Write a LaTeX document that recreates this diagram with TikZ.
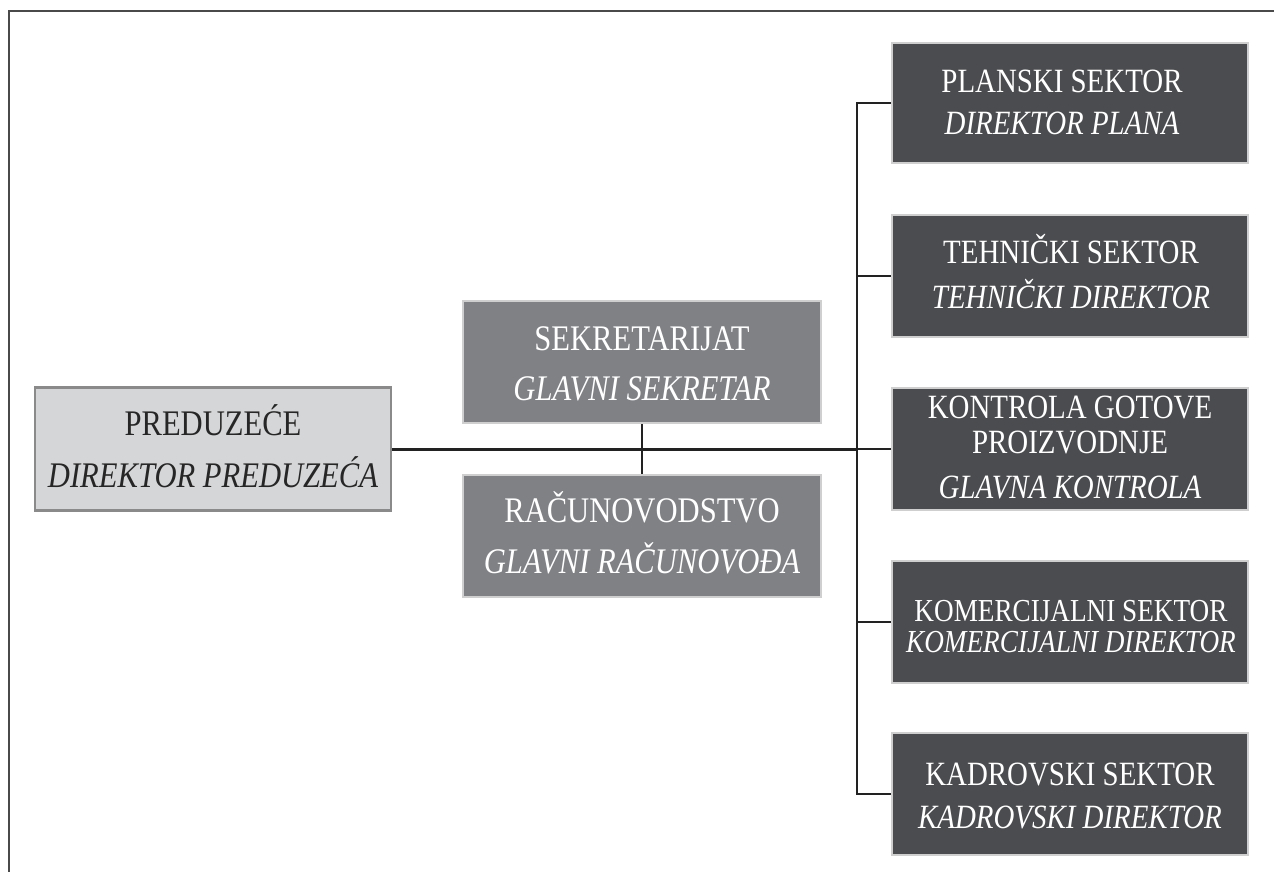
\documentclass[tikz,border=0pt]{standalone}
\usepackage{fontspec}
\setmainfont[FakeStretch=0.85]{Liberation Serif}
\definecolor{predfill}{HTML}{D5D6D8}
\definecolor{predline}{HTML}{8A8A8A}
\definecolor{midfill}{HTML}{808185}
\definecolor{darkfill}{HTML}{4B4C4F}
\definecolor{boxline}{HTML}{CFCFCF}
\definecolor{conn}{HTML}{222222}
\definecolor{frame}{HTML}{4A4A4A}
\begin{document}
\begin{tikzpicture}[x=1pt,y=-1pt,
  predbox/.style={draw=predline,fill=predfill,line width=2.5pt,minimum width=356pt,minimum height=123pt,inner sep=0pt},
  midbox/.style={draw=boxline,fill=midfill,line width=2pt,minimum width=358pt,minimum height=122pt,inner sep=0pt},
  darkbox/.style={draw=boxline,fill=darkfill,line width=2pt,minimum width=356pt,minimum height=120pt,inner sep=0pt},
  bigtxt/.style={anchor=base,inner sep=0pt,font=\fontsize{36}{36}\selectfont},
  smalltxt/.style={anchor=base,inner sep=0pt,font=\fontsize{34}{34}\selectfont,text=white},
  tighttxt/.style={anchor=base,inner sep=0pt,font=\fontsize{32}{32}\selectfont,text=white},
  conline/.style={draw=conn,line width=2pt},
  mainline/.style={draw=conn,line width=3pt}]
\useasboundingbox (0,0) rectangle (1274,872);
% frame
\draw[frame,line width=2pt] (9,872) -- (9,11) -- (1274,11);
% boxes
\node[predbox] (pred) at (213,449) {};
\node[midbox] (sek) at (642,362) {};
\node[midbox] (rac) at (642,536) {};
\node[darkbox] (plan) at (1070,103) {};
\node[darkbox,minimum height=122pt] (teh) at (1070,276) {};
\node[darkbox,minimum height=122pt] (kon) at (1070,449) {};
\node[darkbox,minimum height=122pt] (kom) at (1070,622) {};
\node[darkbox,minimum height=122pt] (kad) at (1070,794) {};
% connectors
\coordinate (bus) at (857,449);
\draw[mainline] (pred.east) -- (pred.east -| bus);
\draw[conline] (bus) -- (kon.west);
\draw[conline] (sek.south) -- (rac.north);
\draw[conline] (plan.west) -- (plan.west -| bus) -- (kad.west -| bus) -- (kad.west);
\draw[conline] (teh.west -| bus) -- (teh.west);
\draw[conline] (kom.west -| bus) -- (kom.west);
% texts
\node[bigtxt,text=black!85] (pred-a) at (213,435) {PREDUZEĆE};
\node[bigtxt,text=black!85] (pred-b) at (213,487) {\itshape DIREKTOR PREDUZEĆA};
\node[bigtxt,text=white] (sek-a) at (642,350) {SEKRETARIJAT};
\node[bigtxt,text=white] (sek-b) at (642,400) {\itshape GLAVNI SEKRETAR};
\node[bigtxt,text=white] (rac-a) at (642,522) {RAČUNOVODSTVO};
\node[bigtxt,text=white] (rac-b) at (642,573) {\itshape GLAVNI RAČUNOVOĐA};
\node[smalltxt] (plan-a) at (1062,93) {PLANSKI SEKTOR};
\node[smalltxt] (plan-b) at (1062,135) {\itshape DIREKTOR PLANA};
\node[smalltxt] (teh-a) at (1071,263) {TEHNIČKI SEKTOR};
\node[smalltxt] (teh-b) at (1071,308) {\itshape TEHNIČKI DIREKTOR};
\node[smalltxt] (kon-a) at (1070,418) {KONTROLA GOTOVE};
\node[smalltxt] (kon-b) at (1070,453) {PROIZVODNJE};
\node[smalltxt] (kon-c) at (1070,498) {\itshape GLAVNA KONTROLA};
\node[tighttxt] (kom-a) at (1071,621) {KOMERCIJALNI SEKTOR};
\node[tighttxt] (kom-b) at (1071,652) {\itshape KOMERCIJALNI DIREKTOR};
\node[smalltxt] (kad-a) at (1070,785) {KADROVSKI SEKTOR};
\node[smalltxt] (kad-b) at (1070,828) {\itshape KADROVSKI DIREKTOR};
\end{tikzpicture}
\end{document}
